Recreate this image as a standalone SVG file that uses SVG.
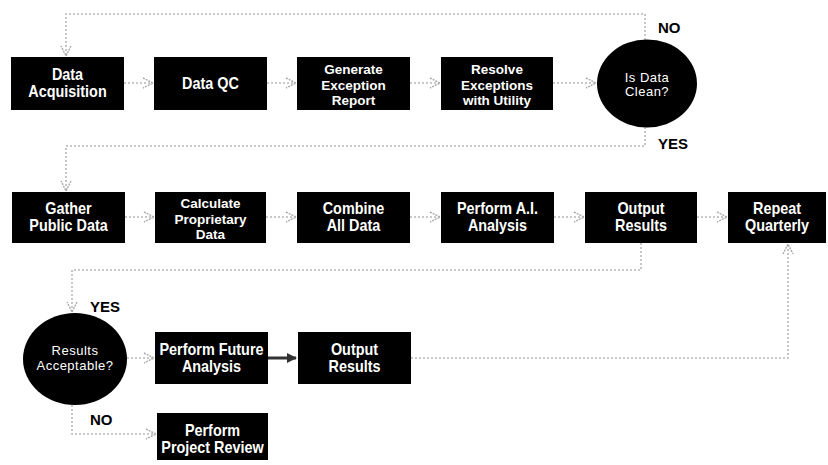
<svg xmlns="http://www.w3.org/2000/svg" width="828" height="465" viewBox="0 0 828 465">
<style>
.box{fill:#000}
.t{font-family:"Liberation Sans",Arial,sans-serif;font-weight:bold;font-size:16px;fill:#fff;text-anchor:middle}
.t3{font-family:"Liberation Sans",Arial,sans-serif;font-weight:bold;font-size:13.5px;fill:#fff;text-anchor:middle}
.c{font-family:"Liberation Sans",Arial,sans-serif;font-size:13px;fill:#fff;text-anchor:middle;letter-spacing:0.5px}
.lbl{font-family:"Liberation Sans",Arial,sans-serif;font-weight:bold;font-size:15px;fill:#000}
.con{fill:none;stroke:#b8b8b8;stroke-width:1.6;stroke-dasharray:2 2}
.solid{fill:none;stroke:#333;stroke-width:3}
</style>
<defs>
<marker id="ah" viewBox="0 0 12 12" refX="11" refY="6" markerWidth="12" markerHeight="12" markerUnits="userSpaceOnUse" orient="auto">
<path d="M1,1 L11,6 L1,11" fill="none" stroke="#aaa" stroke-width="1.4" stroke-dasharray="2 1"/>
</marker>
<marker id="ahs" viewBox="0 0 10 10" refX="9" refY="5" markerWidth="10" markerHeight="10" markerUnits="userSpaceOnUse" orient="auto">
<path d="M0,0 L10,5 L0,10 Z" fill="#333"/>
</marker>
</defs>
<rect width="828" height="465" fill="#fff"/>
<g id="connectors">
<path class="con" d="M645,40 V14 H66 V56" marker-end="url(#ah)"/>
<path class="con" d="M124,83 H153" marker-end="url(#ah)"/>
<path class="con" d="M267,83 H296" marker-end="url(#ah)"/>
<path class="con" d="M410,83 H440" marker-end="url(#ah)"/>
<path class="con" d="M553,83 H596" marker-end="url(#ah)"/>
<path class="con" d="M645,127 V146 H66 V191" marker-end="url(#ah)"/>
<path class="con" d="M125,217 H154" marker-end="url(#ah)"/>
<path class="con" d="M266,217 H296" marker-end="url(#ah)"/>
<path class="con" d="M410,217 H440" marker-end="url(#ah)"/>
<path class="con" d="M554,217 H584" marker-end="url(#ah)"/>
<path class="con" d="M697,217 H727" marker-end="url(#ah)"/>
<path class="con" d="M641,243 V270 H72 V312" marker-end="url(#ah)"/>
<path class="con" d="M127,358 H154" marker-end="url(#ah)"/>
<path class="solid" d="M268,358 H296" marker-end="url(#ahs)"/>
<path class="con" d="M411,358 H788 V244" marker-end="url(#ah)"/>
<path class="con" d="M72,405 V434 H156" marker-end="url(#ah)"/>
</g>
<g id="labels">
<text class="lbl" x="658" y="33">NO</text>
<text class="lbl" x="658" y="149">YES</text>
<text class="lbl" x="90" y="312">YES</text>
<text class="lbl" x="90" y="425">NO</text>
</g>
<g id="data-acquisition">
<rect class="box" x="11" y="57" width="113" height="53"/>
<text class="t" transform="translate(67.5,0) scale(0.9,1)"><tspan x="0" y="80">Data</tspan><tspan x="0" y="97">Acquisition</tspan></text>
</g>
<g id="data-qc">
<rect class="box" x="154" y="57" width="113" height="53"/>
<text class="t" transform="translate(210.5,0) scale(0.9,1)"><tspan x="0" y="89">Data QC</tspan></text>
</g>
<g id="generate-exception-report">
<rect class="box" x="297" y="57" width="113" height="53"/>
<text class="t3"><tspan x="353.5" y="74">Generate</tspan><tspan x="353.5" y="89.5">Exception</tspan><tspan x="353.5" y="105">Report</tspan></text>
</g>
<g id="resolve-exceptions">
<rect class="box" x="441" y="57" width="112" height="53"/>
<text class="t3"><tspan x="497" y="74">Resolve</tspan><tspan x="497" y="89.5">Exceptions</tspan><tspan x="497" y="105">with Utility</tspan></text>
</g>
<g id="is-data-clean">
<ellipse class="box" cx="647" cy="83.5" rx="50" ry="44"/>
<text class="c"><tspan x="647" y="82">Is Data</tspan><tspan x="647" y="96">Clean?</tspan></text>
</g>
<g id="gather-public-data">
<rect class="box" x="12" y="192" width="113" height="51"/>
<text class="t" transform="translate(68.5,0) scale(0.9,1)"><tspan x="0" y="214">Gather</tspan><tspan x="0" y="231">Public Data</tspan></text>
</g>
<g id="calculate-proprietary-data">
<rect class="box" x="155" y="192" width="111" height="51"/>
<text class="t3"><tspan x="210.5" y="208">Calculate</tspan><tspan x="210.5" y="223.5">Proprietary</tspan><tspan x="210.5" y="239">Data</tspan></text>
</g>
<g id="combine-all-data">
<rect class="box" x="297" y="192" width="113" height="51"/>
<text class="t" transform="translate(353.5,0) scale(0.9,1)"><tspan x="0" y="214">Combine</tspan><tspan x="0" y="231">All Data</tspan></text>
</g>
<g id="perform-ai-analysis">
<rect class="box" x="441" y="192" width="113" height="51"/>
<text class="t" transform="translate(497.5,0) scale(0.9,1)"><tspan x="0" y="214">Perform A.I.</tspan><tspan x="0" y="231">Analysis</tspan></text>
</g>
<g id="output-results-1">
<rect class="box" x="585" y="192" width="112" height="51"/>
<text class="t" transform="translate(641,0) scale(0.9,1)"><tspan x="0" y="214">Output</tspan><tspan x="0" y="231">Results</tspan></text>
</g>
<g id="repeat-quarterly">
<rect class="box" x="728" y="192" width="98" height="51"/>
<text class="t" transform="translate(777,0) scale(0.9,1)"><tspan x="0" y="214">Repeat</tspan><tspan x="0" y="231">Quarterly</tspan></text>
</g>
<g id="results-acceptable">
<ellipse class="box" cx="75" cy="359" rx="52" ry="46"/>
<text class="c"><tspan x="75" y="355">Results</tspan><tspan x="75" y="370">Acceptable?</tspan></text>
</g>
<g id="perform-future-analysis">
<rect class="box" x="155" y="332" width="113" height="52"/>
<text class="t" transform="translate(211.5,0) scale(0.9,1)"><tspan x="0" y="355">Perform Future</tspan><tspan x="0" y="372">Analysis</tspan></text>
</g>
<g id="output-results-2">
<rect class="box" x="298" y="332" width="113" height="52"/>
<text class="t" transform="translate(354.5,0) scale(0.9,1)"><tspan x="0" y="355">Output</tspan><tspan x="0" y="372">Results</tspan></text>
</g>
<g id="perform-project-review">
<rect class="box" x="157" y="413" width="111" height="47"/>
<text class="t" transform="translate(212.5,0) scale(0.9,1)"><tspan x="0" y="436">Perform</tspan><tspan x="0" y="453">Project Review</tspan></text>
</g>
</svg>
